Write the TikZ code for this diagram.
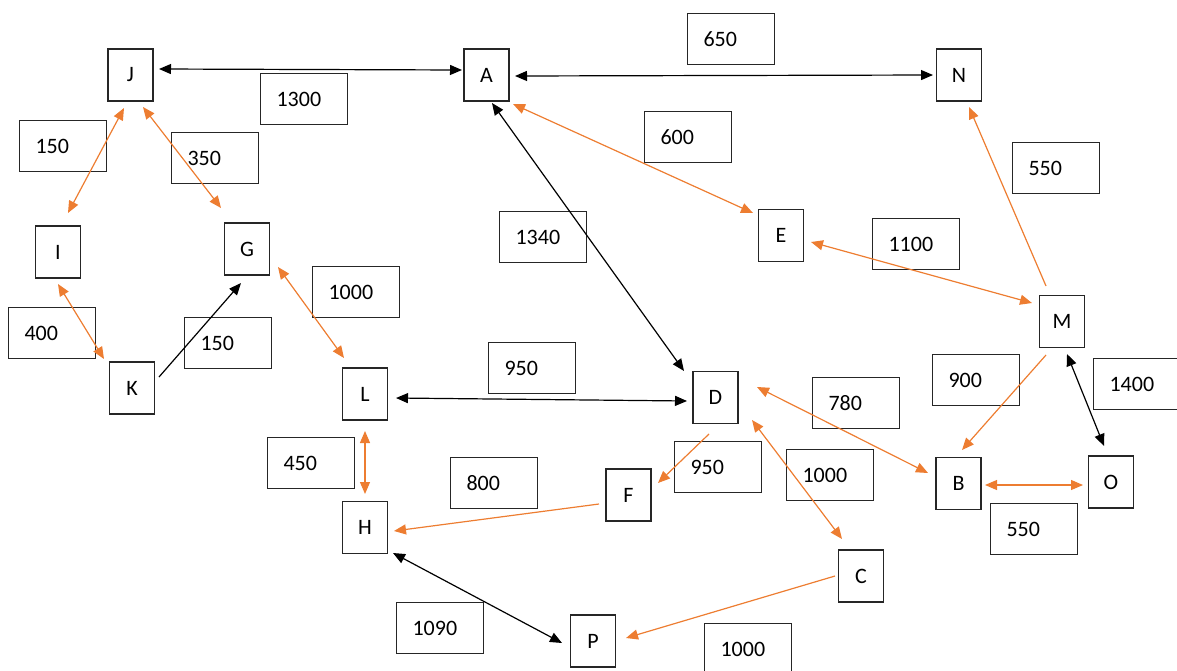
\documentclass[tikz,border=0pt]{standalone}
\usepackage{fontspec}
\setmainfont{Carlito}
\usetikzlibrary{arrows.meta}
\definecolor{orng}{HTML}{ED7D31}
\definecolor{boxline}{HTML}{262626}
\tikzset{
  vbox/.style={draw=boxline, line width=1.1pt, minimum width=45pt, minimum height=52pt, inner sep=0pt, font=\fontsize{22}{26}\selectfont},
  lbox/.style={draw=boxline, line width=1.1pt, anchor=north west, minimum height=51pt, text width=55pt, inner xsep=16pt, inner ysep=0pt, align=left, font=\fontsize{22}{26}\selectfont},
  tip/.tip={Triangle[length=12pt,width=10pt]},
  blk/.style={draw=black, line width=1.2pt},
  org/.style={draw=orng, line width=1.2pt},
}
\begin{document}
\begin{tikzpicture}[x=1pt,y=-1pt]
\useasboundingbox (0,0) rectangle (1177,670);
% vertex boxes
\node[vbox] (J) at (130.5,75) {J};
\node[vbox] (A) at (486.5,75) {A};
\node[vbox] (N) at (959,75) {N};
\node[vbox] (I) at (58,252) {I};
\node[vbox] (G) at (247,249) {G};
\node[vbox] (E) at (781,235.5) {E};
\node[vbox] (M) at (1062,321.5) {M};
\node[vbox] (K) at (132,388) {K};
\node[vbox] (L) at (365,394) {L};
\node[vbox] (D) at (715.5,397.5) {D};
\node[vbox] (B) at (958.5,483.5) {B};
\node[vbox] (O) at (1111,482) {O};
\node[vbox] (F) at (628.5,495) {F};
\node[vbox] (H) at (365,527.5) {H};
\node[vbox] (C) at (861,576) {C};
\node[vbox] (P) at (593,641) {P};
% weight boxes
\node[lbox] (w650) at (687,13) {650};
\node[lbox] (w1300) at (260,73) {1300};
\node[lbox] (w150a) at (19,120) {150};
\node[lbox] (w350) at (171,132) {350};
\node[lbox] (w600) at (644,111) {600};
\node[lbox] (w550a) at (1012,142) {550};
\node[lbox] (w1340) at (499,211) {1340};
\node[lbox] (w1100) at (872,218) {1100};
\node[lbox] (w1000a) at (312,266) {1000};
\node[lbox] (w400) at (8,307) {400};
\node[lbox] (w150b) at (184,317) {150};
\node[lbox] (w950a) at (488,342) {950};
\node[lbox] (w900) at (932,354) {900};
\node[lbox] (w1400) at (1093,358) {1400};
\node[lbox] (w780) at (812,377) {780};
\node[lbox] (w450) at (267,437) {450};
\node[lbox] (w950b) at (674,441) {950};
\node[lbox] (w1000b) at (786,449) {1000};
\node[lbox] (w800) at (450,457) {800};
\node[lbox] (w550b) at (990,503) {550};
\node[lbox] (w1090) at (396,602) {1090};
\node[lbox] (w1000c) at (704,623) {1000};
% connector ends
\coordinate (ja-j) at (159,69);   \coordinate (ja-a) at (462,70);
\coordinate (an-a) at (515,76);   \coordinate (an-n) at (933,75);
\coordinate (ji-j) at (124,108);  \coordinate (ji-i) at (68,213);
\coordinate (jg-j) at (143,107);  \coordinate (jg-g) at (221,208);
\coordinate (ae-a) at (513,104);  \coordinate (ae-e) at (753,213);
\coordinate (ad-a) at (492,103);  \coordinate (ad-d) at (684,371);
\coordinate (em-e) at (811,242);  \coordinate (em-m) at (1032,303);
\coordinate (mn-m) at (1046,286); \coordinate (mn-n) at (969,107);
\coordinate (ik-i) at (58,284);   \coordinate (ik-k) at (104,359);
\coordinate (kg-k) at (159,377);  \coordinate (kg-g) at (241,283);
\coordinate (gl-g) at (278,267);  \coordinate (gl-l) at (344,358);
\coordinate (ld-l) at (396,398);  \coordinate (ld-d) at (687,401);
\coordinate (lh-l) at (365,431);  \coordinate (lh-h) at (365,494);
\coordinate (df-d) at (709,434);  \coordinate (df-f) at (658,483);
\coordinate (fh-f) at (599,504);  \coordinate (fh-h) at (394,531);
\coordinate (hp-h) at (393,553);  \coordinate (hp-p) at (562,643);
\coordinate (cp-c) at (835,576);  \coordinate (cp-p) at (626,638);
\coordinate (db-d) at (757,387);  \coordinate (db-b) at (928,473);
\coordinate (dc-d) at (752,420);  \coordinate (dc-c) at (842,539);
\coordinate (mb-m) at (1046,355); \coordinate (mb-b) at (962,450);
\coordinate (mo-m) at (1067,354); \coordinate (mo-o) at (1104,446);
\coordinate (bo-b) at (985,485);  \coordinate (bo-o) at (1083,485);
% black connectors
\draw[blk, {tip}-{tip}] (ja-j) -- (ja-a);
\draw[blk, {tip}-{tip}] (an-a) -- (an-n);
\draw[blk, {tip}-{tip}] (ad-a) -- (ad-d);
\draw[blk, -{tip}] (kg-k) -- (kg-g);
\draw[blk, {tip}-{tip}] (ld-l) -- (ld-d);
\draw[blk, {tip}-{tip}] (hp-h) -- (hp-p);
\draw[blk, {tip}-{tip}] (mo-m) -- (mo-o);
% orange connectors
\draw[org, {tip}-{tip}] (ji-j) -- (ji-i);
\draw[org, {tip}-{tip}] (jg-j) -- (jg-g);
\draw[org, {tip}-{tip}] (ae-a) -- (ae-e);
\draw[org, {tip}-{tip}] (em-e) -- (em-m);
\draw[org, -{tip}] (mn-m) -- (mn-n);
\draw[org, {tip}-{tip}] (ik-i) -- (ik-k);
\draw[org, {tip}-{tip}] (gl-g) -- (gl-l);
\draw[org, {tip}-{tip}] (lh-l) -- (lh-h);
\draw[org, -{tip}] (df-d) -- (df-f);
\draw[org, -{tip}] (fh-f) -- (fh-h);
\draw[org, -{tip}] (cp-c) -- (cp-p);
\draw[org, {tip}-{tip}] (db-d) -- (db-b);
\draw[org, {tip}-{tip}] (dc-d) -- (dc-c);
\draw[org, -{tip}] (mb-m) -- (mb-b);
\draw[org, {tip}-{tip}] (bo-b) -- (bo-o);
\end{tikzpicture}
\end{document}
